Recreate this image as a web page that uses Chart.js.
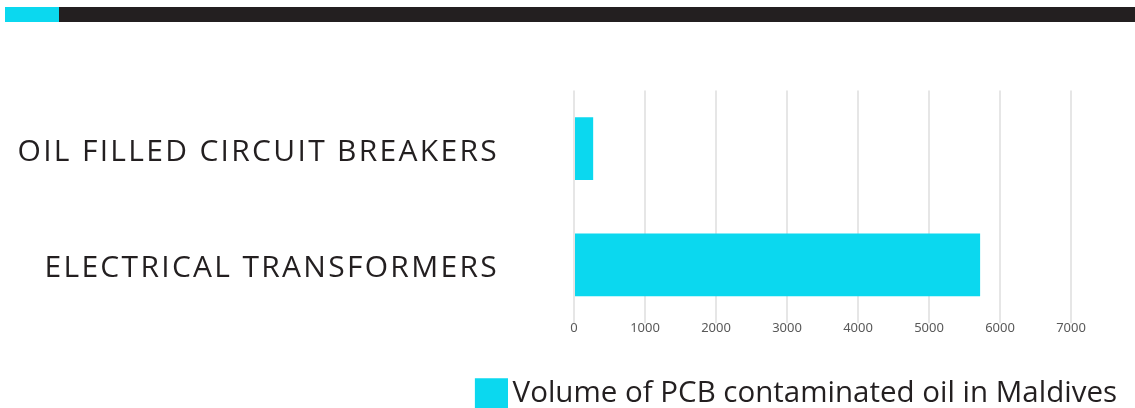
<!DOCTYPE html>
<html>
<head>
<meta charset="utf-8">
<script src="https://cdn.jsdelivr.net/npm/chart.js@4.4.0/dist/chart.umd.min.js"></script>
<style>
    html, body { margin: 0; padding: 0; background: #fff; }
    #wrap { position: relative; width: 1135px; height: 408px; overflow: hidden; }
    .band-dark { position: absolute; left: 59px; top: 7px; width: 1076px; height: 15px; background: #231f20; }
    .band-cyan { position: absolute; left: 5px; top: 7px; width: 54px; height: 15px; background: #0bd8ef; }
    canvas { position: absolute; left: 0; top: 0; }
</style>
</head>
<body>
<div id="wrap">
    <div class="band-dark"></div>
    <div class="band-cyan"></div>
    <canvas id="pcbChart" width="1135" height="408"></canvas>
</div>
<script>
// Chart data
const categories = ['OIL FILLED CIRCUIT BREAKERS', 'ELECTRICAL TRANSFORMERS'];
const volumes = [270, 5720];
const seriesLabel = 'Volume of PCB contaminated oil in Maldives';
const xTicks = [0, 1000, 2000, 3000, 4000, 5000, 6000, 7000];

const cyan = '#0bd8ef';

// Legend swatch: square sits close to the text, like the original
function makeSwatch() {
    const c = document.createElement('canvas');
    c.width = 54;
    c.height = 38;
    const g = c.getContext('2d');
    g.fillStyle = cyan;
    g.fillRect(21, 4, 33, 34);
    return c;
}

document.addEventListener('DOMContentLoaded', function() {
    const ctx = document.getElementById('pcbChart');
    const swatch = makeSwatch();

    new Chart(ctx, {
        type: 'bar',
        data: {
            labels: categories,
            datasets: [{
                label: seriesLabel,
                data: volumes,
                backgroundColor: cyan,
                borderWidth: 0,
                categoryPercentage: 1,
                barPercentage: 0.54,
                pointStyle: swatch
            }]
        },
        options: {
            indexAxis: 'y',
            responsive: false,
            animation: false,
            layout: {
                padding: { top: 90.5, right: 14, bottom: -16.5, left: 0 }
            },
            plugins: {
                tooltip: { enabled: false },
                legend: {
                    position: 'bottom',
                    align: 'end',
                    labels: {
                        usePointStyle: true,
                        pointStyleWidth: 34,
                        padding: 4,
                        color: '#231f20',
                        font: { family: 'Open Sans', size: 29.5 }
                    }
                }
            },
            scales: {
                x: {
                    min: 0,
                    max: 7000,
                    afterBuildTicks: function(scale) {
                        scale.ticks = xTicks.map(v => ({ value: v }));
                    },
                    afterFit: function(scale) {
                        scale.height = 51.5;
                    },
                    grid: {
                        color: '#e6e6e6',
                        lineWidth: 2,
                        drawTicks: false
                    },
                    border: { display: false },
                    ticks: {
                        padding: -2.5,
                        color: '#595959',
                        font: { family: 'Noto Sans', size: 13 },
                        callback: function(value) {
                            return String(value);
                        }
                    }
                },
                y: {
                    afterFit: function(scale) {
                        scale.width = 574;
                    },
                    afterUpdate: function(scale) {
                        // letter-spaced category labels
                        const base = Object.getPrototypeOf(scale).drawLabels;
                        scale.drawLabels = function(area) {
                            const c = this.ctx;
                            c.save();
                            c.letterSpacing = '2.3px';
                            base.call(this, area);
                            c.restore();
                        };
                    },
                    grid: { display: false },
                    border: { display: false },
                    ticks: {
                        padding: 67,
                        labelOffset: 4,
                        color: '#231f20',
                        font: { family: 'Open Sans', size: 30 }
                    }
                },
                // empty right box so the plot ends at 7000 while the legend reaches further right
                spacer: {
                    type: 'linear',
                    position: 'right',
                    display: true,
                    afterFit: function(scale) {
                        scale.width = 50;
                    },
                    grid: { display: false },
                    border: { display: false },
                    ticks: { display: false }
                }
            }
        }
    });
});
</script>
</body>
</html>
